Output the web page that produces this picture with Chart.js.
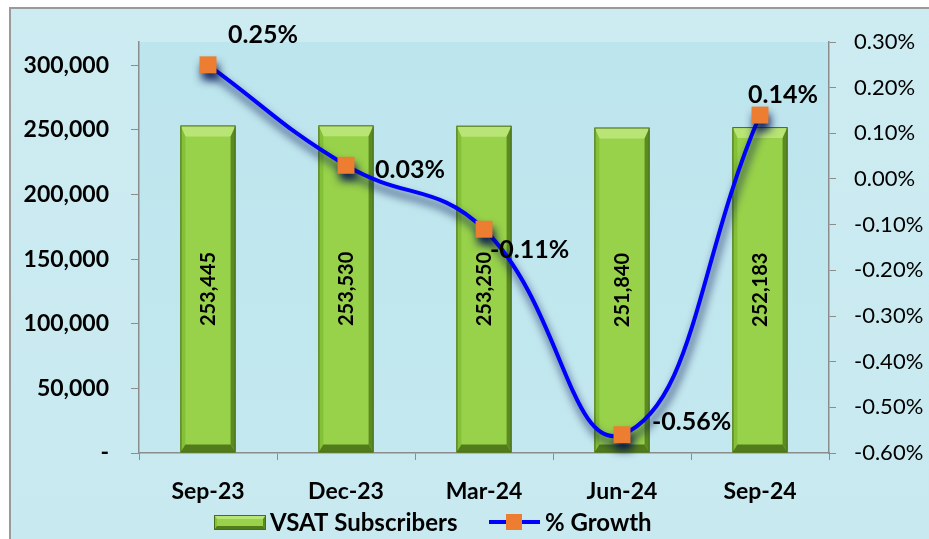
<!DOCTYPE html>
<html>
<head>
<meta charset="utf-8">
<script src="https://cdn.jsdelivr.net/npm/chart.js@4.4.1/dist/chart.umd.min.js"></script>
<style>
  html, body { margin: 0; padding: 0; background: #fff; }
  #wrap { position: relative; width: 929px; height: 539px; }
</style>
</head>
<body>
<div id="wrap"><canvas id="chart"></canvas></div>
<script>
// quarters
const quarters = ['Sep-23', 'Dec-23', 'Mar-24', 'Jun-24', 'Sep-24'];
// VSAT subscribers per quarter
const subscribers = [253445, 253530, 253250, 251840, 252183];
// % growth vs previous quarter
const growth = [0.25, 0.03, -0.11, -0.56, 0.14];
// left axis ticks
const subscriberTicks = [0, 50000, 100000, 150000, 200000, 250000, 300000];
// legend names
const barName = 'VSAT Subscribers';
const lineName = '% Growth';

// where each % label sits relative to its point (dx = left edge, dy = middle)
const labelOffsets = [[20, -30], [29, 5], [6, 21], [30, -13], [-12, -20]];

const FONT = 'Lato, "Open Sans", sans-serif';
const GREEN = '#98d24a';
const ORANGE = '#ed7d31';
const BLUE = '#0000ff';

function bevelRect(ctx, l, t, r, b, top, side, bottom) {
    ctx.fillStyle = GREEN;
    ctx.fillRect(l, t, r - l, b - t);
    const poly = (pts, color) => {
        ctx.beginPath();
        ctx.moveTo(pts[0][0], pts[0][1]);
        for (let i = 1; i < pts.length; i++) ctx.lineTo(pts[i][0], pts[i][1]);
        ctx.closePath();
        ctx.fillStyle = color;
        ctx.fill();
    };
    poly([[l, t], [r, t], [r - side, t + top], [l + side, t + top]], '#b9e576');
    poly([[l, t], [l + side, t + top], [l + side, b - bottom], [l, b]], '#84c038');
    poly([[r, t], [r, b], [r - side, b - bottom], [r - side, t + top]], '#5b8a22');
    poly([[l, b], [r, b], [r - side, b - bottom], [l + side, b - bottom]], '#527c1c');
    ctx.strokeStyle = '#4a6d18';
    ctx.lineWidth = 1;
    ctx.strokeRect(l + 0.5, t + 0.5, r - l - 1, b - t - 1);
}

const backdrop = {
    id: 'backdrop',
    beforeDraw(chart) {
        const ctx = chart.ctx;
        const a = chart.chartArea;
        ctx.save();
        ctx.fillStyle = '#ffffff';
        ctx.fillRect(0, 0, chart.width, chart.height);
        let g = ctx.createLinearGradient(0, 8, 0, chart.height);
        g.addColorStop(0, '#cdecf2');
        g.addColorStop(1, '#c8e9f0');
        ctx.fillStyle = g;
        ctx.fillRect(10, 8, chart.width - 10, chart.height - 8);
        ctx.strokeStyle = '#9a9a9a';
        ctx.lineWidth = 2;
        ctx.beginPath();
        ctx.moveTo(10, chart.height);
        ctx.lineTo(10, 8);
        ctx.lineTo(chart.width, 8);
        ctx.stroke();
        g = ctx.createLinearGradient(0, a.top, 0, a.bottom);
        g.addColorStop(0, '#bde5ed');
        g.addColorStop(1, '#c3e8ef');
        ctx.fillStyle = g;
        ctx.fillRect(a.left, a.top, a.right - a.left, a.bottom - a.top);
        ctx.restore();
    }
};

const barStyle = {
    id: 'barStyle',
    afterDatasetDraw(chart, args) {
        if (args.index !== 0) return;
        const ctx = chart.ctx;
        const meta = chart.getDatasetMeta(0);
        ctx.save();
        meta.data.forEach((bar, i) => {
            const l = bar.x - bar.width / 2, r = bar.x + bar.width / 2;
            bevelRect(ctx, l, bar.y, r, bar.base, 11, 5, 8);
            ctx.save();
            ctx.translate(bar.x, (bar.y + bar.base) / 2);
            ctx.rotate(-Math.PI / 2);
            ctx.font = 'bold 20px ' + FONT;
            ctx.fillStyle = '#000';
            ctx.textAlign = 'center';
            ctx.textBaseline = 'middle';
            ctx.fillText(subscribers[i].toLocaleString('en-US'), 0, 1);
            ctx.restore();
        });
        ctx.restore();
    }
};

const lineShadow = {
    id: 'lineShadow',
    beforeDatasetDraw(chart, args) {
        if (args.index !== 1) return;
        const ctx = chart.ctx;
        ctx.save();
        ctx.shadowColor = 'rgba(0, 15, 80, 0.85)';
        ctx.shadowBlur = 9;
        ctx.shadowOffsetX = 2;
        ctx.shadowOffsetY = 7;
    },
    afterDatasetDraw(chart, args) {
        if (args.index !== 1) return;
        chart.ctx.restore();
    }
};

const labelsAndLegend = {
    id: 'labelsAndLegend',
    afterDatasetsDraw(chart) {
        const ctx = chart.ctx;
        const meta = chart.getDatasetMeta(1);
        ctx.save();
        ctx.font = 'bold 25px ' + FONT;
        ctx.fillStyle = '#000';
        ctx.textAlign = 'left';
        ctx.textBaseline = 'middle';
        meta.data.forEach((pt, i) => {
            const off = labelOffsets[i];
            ctx.fillText(growth[i].toFixed(2) + '%', pt.x + off[0], pt.y + off[1]);
        });

        // legend
        const ly = 522;
        bevelRect(ctx, 214, 515, 266, 530, 4, 3, 4);
        ctx.font = 'bold 24px ' + FONT;
        ctx.fillStyle = '#000';
        ctx.fillText(barName, 270, ly + 1);
        ctx.strokeStyle = BLUE;
        ctx.lineWidth = 4;
        ctx.beginPath();
        ctx.moveTo(489, ly);
        ctx.lineTo(540, ly);
        ctx.stroke();
        ctx.fillStyle = ORANGE;
        ctx.fillRect(506, ly - 8, 16, 16);
        ctx.fillStyle = '#000';
        ctx.fillText(lineName, 545, ly + 1);
        ctx.restore();
    }
};

const axisColor = '#8c8c8c';

const config = {
    type: 'bar',
    data: {
        labels: quarters,
        datasets: [
            {
                type: 'bar',
                label: barName,
                data: subscribers,
                yAxisID: 'y',
                backgroundColor: 'rgba(0,0,0,0)',
                borderWidth: 0,
                categoryPercentage: 1,
                barPercentage: 0.4,
                order: 2
            },
            {
                type: 'line',
                label: lineName,
                data: growth,
                yAxisID: 'y1',
                borderColor: BLUE,
                borderWidth: 4,
                tension: 0.45,
                pointStyle: 'rect',
                pointRadius: 12,
                pointBackgroundColor: ORANGE,
                pointBorderColor: ORANGE,
                pointBorderWidth: 0,
                clip: false,
                order: 1
            }
        ]
    },
    options: {
        responsive: true,
        maintainAspectRatio: false,
        animation: false,
        layout: { padding: { top: 42, left: 0, right: 0, bottom: 0 } },
        plugins: {
            legend: { display: false },
            tooltip: { enabled: false }
        },
        scales: {
            x: {
                offset: true,
                grid: { offset: true, drawOnChartArea: false, tickLength: 7, color: axisColor },
                border: { color: axisColor, width: 1.5 },
                ticks: { color: '#000', font: { family: FONT, size: 23, weight: 'bold' }, padding: 18 },
                afterFit(scale) { scale.height = 86; }
            },
            y: {
                position: 'left',
                min: 0,
                max: 318000,
                grid: { drawOnChartArea: false, tickLength: 8, color: axisColor },
                border: { color: axisColor, width: 1.5 },
                afterBuildTicks(scale) {
                    scale.ticks = subscriberTicks.map(v => ({ value: v }));
                },
                ticks: {
                    autoSkip: false,
                    color: '#000',
                    padding: 22,
                    font: { family: FONT, size: 23, weight: 'bold' },
                    callback: v => v === 0 ? '-' : v.toLocaleString('en-US')
                },
                afterFit(scale) { scale.width = 139; }
            },
            y1: {
                position: 'right',
                min: -0.6,
                max: 0.3,
                grid: { drawOnChartArea: false, tickLength: 7, color: axisColor },
                border: { color: axisColor, width: 1.5 },
                ticks: {
                    stepSize: 0.1,
                    color: '#000',
                    padding: 18,
                    font: { family: FONT, size: 22 },
                    callback: v => v.toFixed(2) + '%'
                },
                afterFit(scale) { scale.width = 100; }
            }
        }
    },
    plugins: [backdrop, barStyle, lineShadow, labelsAndLegend]
};

const chart = new Chart(document.getElementById('chart'), config);
</script>
</body>
</html>
